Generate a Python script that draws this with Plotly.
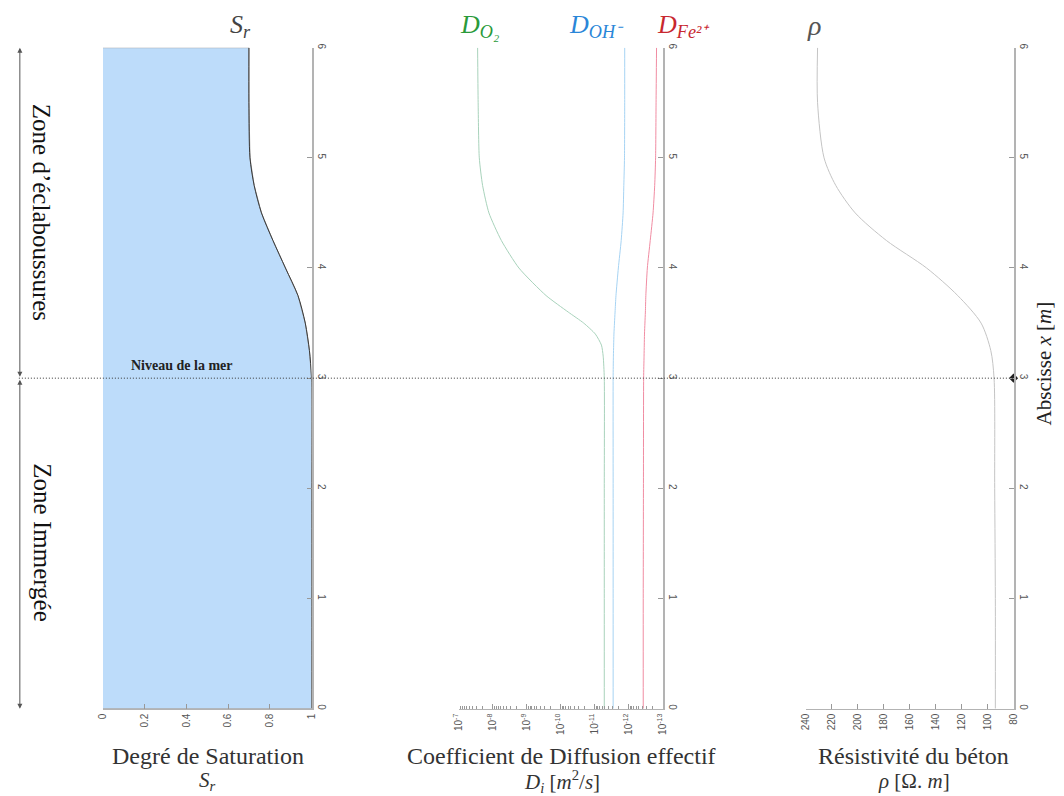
import plotly.graph_objects as go

W, H = 1064, 796

# ---------------- data ----------------
x_pos = [6, 5.5, 5, 4.75, 4.5, 4.25, 4, 3.75, 3.5, 3.25, 3, 2, 1, 0]
sr = [0.70, 0.70, 0.705, 0.725, 0.76, 0.815, 0.875, 0.935, 0.97, 0.99, 1.0, 1.0, 1.0, 1.0]
rho = [231, 231, 226, 217, 202, 178, 147, 123, 105, 97.5, 95, 94.5, 94, 94]

x_d = [6, 5.5, 5, 4.75, 4.5, 4.25, 4, 3.75, 3.6, 3.5, 3.4, 3.3, 3.2, 3, 2, 1, 0]
d_o2 = [2.8e-8, 2.7e-8, 2.5e-8, 2.0e-8, 1.3e-8, 5.6e-9, 1.7e-9, 2.7e-10, 6e-11, 2.1e-11,
        9.5e-12, 6.3e-12, 5.6e-12, 5.2e-12, 5.2e-12, 5.2e-12, 5.2e-12]
d_oh = [1.3e-12, 1.3e-12, 1.32e-12, 1.38e-12, 1.45e-12, 1.65e-12, 2.0e-12, 2.35e-12, 2.5e-12,
        2.6e-12, 2.7e-12, 2.75e-12, 2.8e-12, 2.85e-12, 2.85e-12, 2.85e-12, 2.85e-12]
d_fe = [1.5e-13, 1.55e-13, 1.6e-13, 1.7e-13, 1.9e-13, 2.3e-13, 2.8e-13, 3.1e-13, 3.2e-13,
        3.3e-13, 3.4e-13, 3.45e-13, 3.5e-13, 3.6e-13, 3.65e-13, 3.7e-13, 3.7e-13]

sr_ticks = [0, 0.2, 0.4, 0.6, 0.8, 1]
sr_ticktext = ["0", "0.2", "0.4", "0.6", "0.8", "1"]
d_ticks = [1e-7, 1e-8, 1e-9, 1e-10, 1e-11, 1e-12, 1e-13]
d_ticktext = ["10<sup>-7</sup>", "10<sup>-8</sup>", "10<sup>-9</sup>", "10<sup>-10</sup>",
              "10<sup>-11</sup>", "10<sup>-12</sup>", "10<sup>-13</sup>"]
rho_ticks = [240, 220, 200, 180, 160, 140, 120, 100, 80]
y_ticks = [0, 1, 2, 3, 4, 5, 6]
sea_level = 3

# ---------------- helpers ----------------
def px(x):
    return x / W

def py(y):
    return 1 - y / H

SERIF = "Liberation Serif"
AX_COL = "#b3b3b3"
TICK_FONT = dict(family="Liberation Sans", size=10, color="#555")

fig = go.Figure()

# Panel 1 : saturation (filled)
fig.add_trace(go.Scatter(
    x=[0] + sr + [0], y=[x_pos[0]] + x_pos + [x_pos[-1]],
    fill="toself", fillcolor="#bddcfa", mode="lines",
    line=dict(color="#9a9a9a", width=1), xaxis="x", yaxis="y",
    hoverinfo="skip", showlegend=False))
fig.add_trace(go.Scatter(
    x=sr, y=x_pos, mode="lines", line=dict(color="#3a3a3a", width=1, shape="spline", smoothing=0.8),
    xaxis="x", yaxis="y", showlegend=False))

# Panel 2 : diffusion coefficients
for vals, col in [(d_o2, "#a8d2bb"), (d_oh, "#a6d3f3"), (d_fe, "#f08ca2")]:
    fig.add_trace(go.Scatter(
        x=vals, y=x_d, mode="lines", line=dict(color=col, width=1, shape="spline", smoothing=0.6),
        xaxis="x2", yaxis="y2", showlegend=False))

# Panel 3 : resistivity
fig.add_trace(go.Scatter(
    x=rho, y=x_pos, mode="lines", line=dict(color="#c4c4c4", width=1, shape="spline", smoothing=0.8),
    xaxis="x3", yaxis="y3", showlegend=False))
fig.add_trace(go.Scatter(
    x=[rho_ticks[-1]], y=[sea_level], mode="markers",
    marker=dict(symbol="diamond", size=7, color="#222"), cliponaxis=False,
    xaxis="x3", yaxis="y3", showlegend=False))

ydom = [py(710), py(44)]
common_x = dict(showgrid=False, zeroline=False, showline=True, linecolor=AX_COL, linewidth=1,
                ticks="inside", ticklen=5, tickcolor="#999", tickangle=-90, tickfont=TICK_FONT)
common_y = dict(range=[0, 6], tickvals=y_ticks, showgrid=False, zeroline=False, showline=True,
                linecolor=AX_COL, linewidth=2, side="right", ticks="inside", ticklen=5,
                tickcolor="#999", tickangle=90, tickfont=TICK_FONT, domain=ydom)

fig.update_layout(
    width=W, height=H, margin=dict(l=0, r=0, t=0, b=0),
    plot_bgcolor="white", paper_bgcolor="white", showlegend=False,
    xaxis=dict(domain=[px(97), px(308)], range=[0, 1], tickvals=sr_ticks, ticktext=sr_ticktext,
               anchor="y", **common_x),
    yaxis=dict(anchor="x", **common_y),
    xaxis2=dict(domain=[px(457), px(663)], type="log", range=[-7, -13], tickvals=d_ticks,
                ticktext=d_ticktext, anchor="y2",
                minor=dict(ticks="inside", ticklen=3, tickcolor="#999", dtick="D1", showgrid=False),
                **common_x),
    yaxis2=dict(anchor="x2", **common_y),
    xaxis3=dict(domain=[px(808), px(1018)], range=[240, 80], tickvals=rho_ticks, anchor="y3",
                **common_x),
    yaxis3=dict(anchor="x3", **common_y),
)

# sea level dotted line
fig.add_shape(type="line", xref="paper", yref="y", x0=px(12), x1=px(1018), y0=sea_level, y1=sea_level,
              line=dict(color="#333", width=1, dash="1px,2px"), layer="above")

# zone arrows on the left
for y_a, y_b in [(6, 3), (0, 3)]:
    fig.add_annotation(xref="paper", yref="y", x=px(13), y=y_a, axref="pixel", ayref="y",
                       ax=0, ay=y_b, showarrow=True, arrowhead=2, arrowside="end+start",
                       arrowsize=1, arrowwidth=1, arrowcolor="#555", text="")

annots = [
    dict(x=px(35), y=py(210), text="Zone d’éclaboussures", textangle=90,
         font=dict(family=SERIF, size=25, color="#111")),
    dict(x=px(35), y=py(543), text="Zone Immergée", textangle=90,
         font=dict(family=SERIF, size=25, color="#111")),
    dict(x=px(176), y=py(364), text="<b>Niveau de la mer</b>",
         font=dict(family=SERIF, size=14, color="#222")),
    dict(x=px(236), y=py(22), text="<i>S<sub>r</sub></i>",
         font=dict(family=SERIF, size=26, color="#444")),
    dict(x=px(478), y=py(22), text="<i>D<sub>O₂</sub></i>",
         font=dict(family=SERIF, size=26, color="#2a9a3a")),
    dict(x=px(596), y=py(22), text="<i>D<sub>OH⁻</sub></i>",
         font=dict(family=SERIF, size=26, color="#2a86d8")),
    dict(x=px(684), y=py(22), text="<i>D<sub>Fe²⁺</sub></i>",
         font=dict(family=SERIF, size=26, color="#c8282f")),
    dict(x=px(816), y=py(22), text="<i>ρ</i>",
         font=dict(family=SERIF, size=28, color="#555")),
    dict(x=px(203), y=py(758), text="Degré de Saturation",
         font=dict(family=SERIF, size=24, color="#333")),
    dict(x=px(203), y=py(783), text="<i>S<sub>r</sub></i>",
         font=dict(family=SERIF, size=21, color="#333")),
    dict(x=px(561), y=py(758), text="Coefficient de Diffusion effectif",
         font=dict(family=SERIF, size=24, color="#333")),
    dict(x=px(561), y=py(783), text="<i>D<sub>i</sub></i> [<i>m</i><sup>2</sup>/<i>s</i>]",
         font=dict(family=SERIF, size=21, color="#333")),
    dict(x=px(917), y=py(758), text="Résistivité du béton",
         font=dict(family=SERIF, size=24, color="#333")),
    dict(x=px(917), y=py(783), text="<i>ρ</i> [Ω. <i>m</i>]",
         font=dict(family=SERIF, size=21, color="#333")),
    dict(x=px(1049), y=py(362), text="Abscisse <i>x</i> [<i>m</i>]", textangle=-90,
         font=dict(family=SERIF, size=21, color="#222")),
]
for a in annots:
    fig.add_annotation(xref="paper", yref="paper", showarrow=False, xanchor="center",
                       yanchor="middle", **a)

fig.write_html("out.html", config={"displayModeBar": False},
               post_script="document.body.style.margin='0';document.body.style.overflow='hidden';")
